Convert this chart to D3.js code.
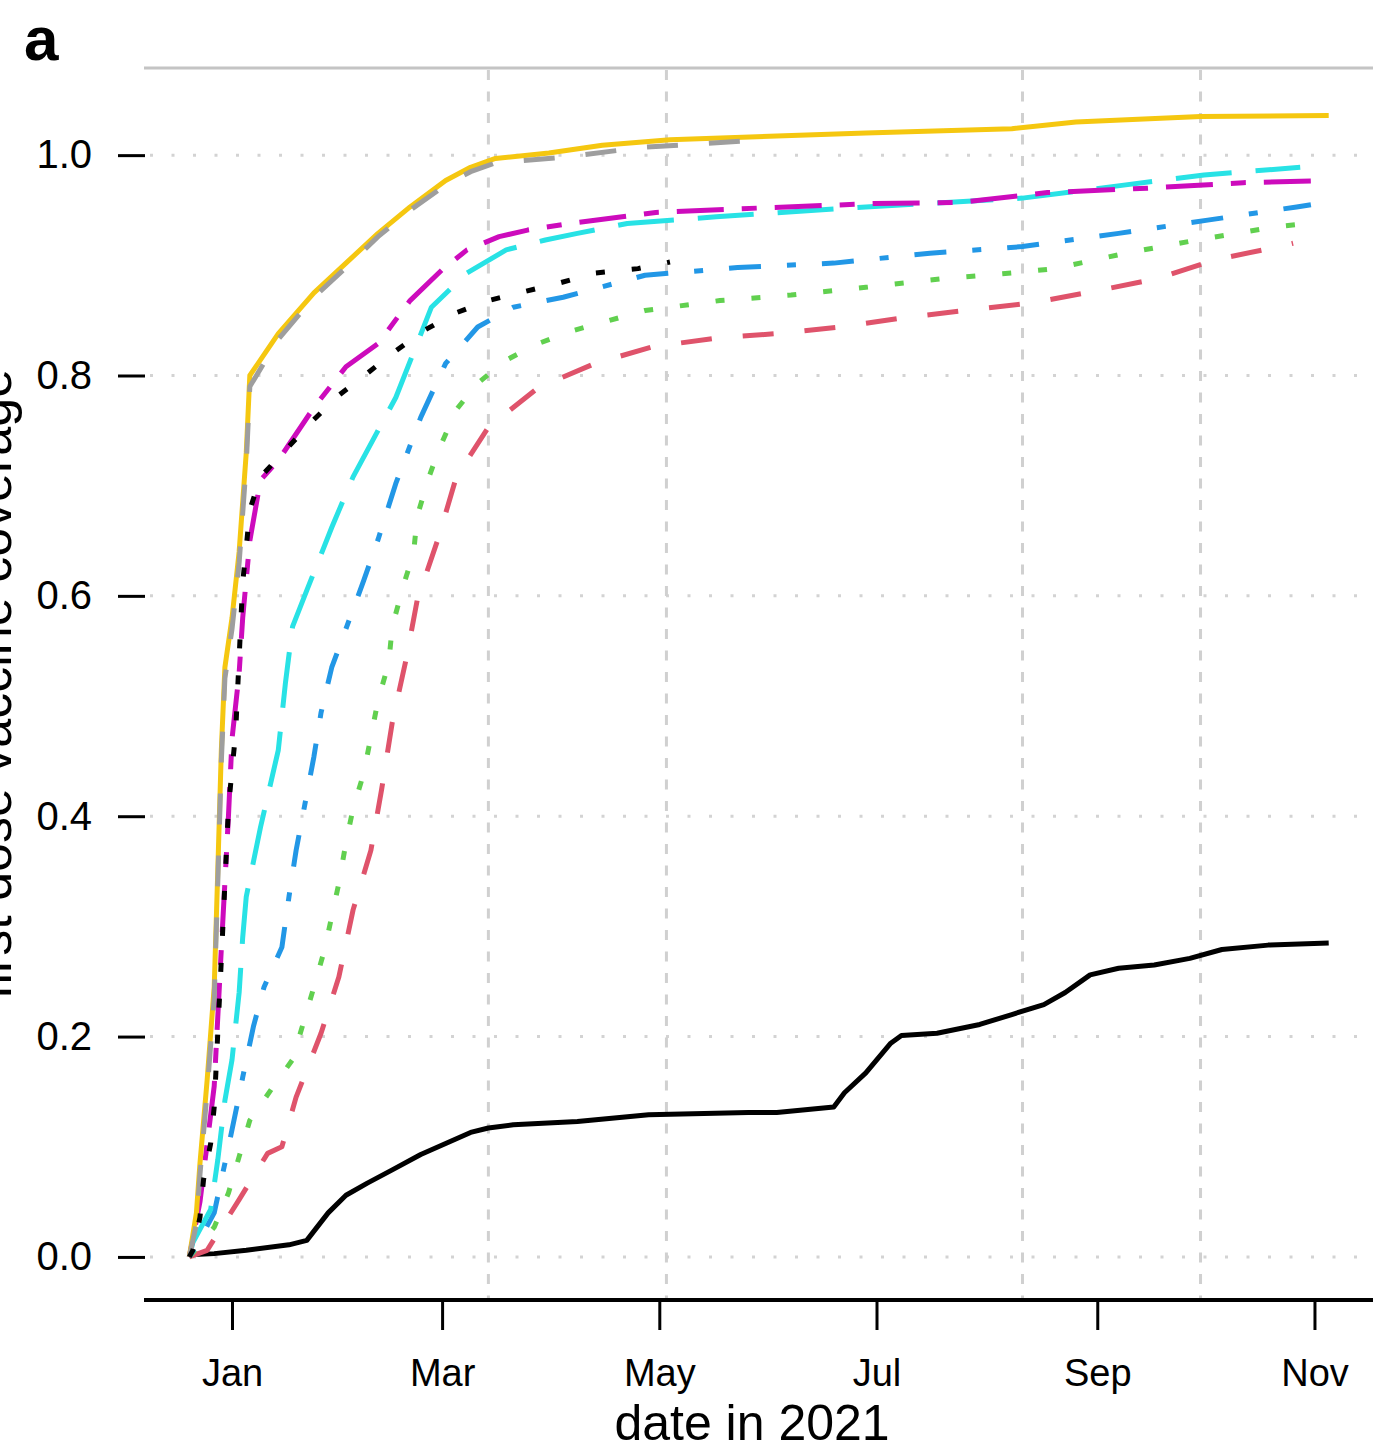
<!DOCTYPE html>
<html>
<head>
<meta charset="utf-8">
<script src="https://cdn.jsdelivr.net/npm/d3@7"></script>
<style>
  html, body { margin: 0; padding: 0; background: #fff; }
  svg { display: block; font-family: "Liberation Sans", Arial, Helvetica, sans-serif; }
</style>
</head>
<body>
<svg id="chart" width="1373" height="1452"></svg>
<script>
// ---------------- data ----------------
const xTickDates = ["2021-01-01","2021-03-01","2021-05-01","2021-07-01","2021-09-01","2021-11-01"];
const xTickLabels = ["Jan","Mar","May","Jul","Sep","Nov"];
const xGridDates = ["2021-03-14","2021-05-03","2021-08-11","2021-09-30"];
const yTicks = [0.0, 0.2, 0.4, 0.6, 0.8, 1.0];
const yTickLabels = ["0.0","0.2","0.4","0.6","0.8","1.0"];

const seriesBlack = [["2020-12-20",0.002],["2020-12-27",0.003],["2021-01-05",0.006],["2021-01-17",0.011],["2021-01-22",0.015],["2021-01-28",0.040],["2021-02-02",0.056],["2021-02-08",0.067],["2021-02-15",0.079],["2021-02-23",0.093],["2021-03-02",0.103],["2021-03-09",0.113],["2021-03-14",0.117],["2021-03-21",0.120],["2021-04-08",0.123],["2021-04-28",0.129],["2021-05-26",0.131],["2021-06-03",0.131],["2021-06-19",0.136],["2021-06-22",0.149],["2021-06-28",0.167],["2021-07-05",0.194],["2021-07-08",0.201],["2021-07-18",0.203],["2021-07-30",0.211],["2021-08-08",0.220],["2021-08-17",0.229],["2021-08-23",0.240],["2021-08-30",0.256],["2021-09-07",0.262],["2021-09-17",0.265],["2021-09-27",0.271],["2021-10-06",0.279],["2021-10-19",0.283],["2021-11-05",0.285]];

const seriesRed = [["2020-12-20",0.0],["2020-12-25",0.006],["2021-01-03",0.052],["2021-01-11",0.094],["2021-01-15",0.100],["2021-01-19",0.145],["2021-01-26",0.203],["2021-01-31",0.254],["2021-02-04",0.315],["2021-02-09",0.369],["2021-02-12",0.424],["2021-02-15",0.485],["2021-02-19",0.544],["2021-02-22",0.596],["2021-02-28",0.653],["2021-03-05",0.708],["2021-03-14",0.753],["2021-03-28",0.789],["2021-04-13",0.811],["2021-04-29",0.826],["2021-05-17",0.834],["2021-06-03",0.838],["2021-06-21",0.844],["2021-07-10",0.853],["2021-07-26",0.859],["2021-08-14",0.866],["2021-09-01",0.877],["2021-09-18",0.888],["2021-10-04",0.905],["2021-10-22",0.917],["2021-10-26",0.920]];

const seriesGreen = [["2020-12-20",0.0],["2020-12-27",0.027],["2020-12-31",0.058],["2021-01-03",0.091],["2021-01-06",0.124],["2021-01-12",0.152],["2021-01-18",0.179],["2021-01-21",0.212],["2021-01-24",0.245],["2021-01-27",0.279],["2021-01-29",0.309],["2021-01-31",0.339],["2021-02-02",0.376],["2021-02-04",0.407],["2021-02-07",0.439],["2021-02-09",0.472],["2021-02-11",0.505],["2021-02-14",0.539],["2021-02-15",0.572],["2021-02-18",0.608],["2021-02-21",0.639],["2021-02-22",0.672],["2021-02-25",0.705],["2021-02-28",0.732],["2021-03-05",0.769],["2021-03-11",0.793],["2021-03-19",0.814],["2021-03-28",0.829],["2021-04-07",0.841],["2021-04-27",0.859],["2021-05-18",0.868],["2021-06-07",0.873],["2021-06-28",0.880],["2021-07-20",0.888],["2021-08-08",0.893],["2021-08-20",0.897],["2021-09-09",0.911],["2021-09-29",0.923],["2021-10-21",0.935],["2021-10-30",0.938]];

const seriesBlue = [["2020-12-20",0.0],["2020-12-22",0.010],["2020-12-27",0.040],["2020-12-31",0.100],["2021-01-02",0.131],["2021-01-04",0.163],["2021-01-07",0.209],["2021-01-10",0.245],["2021-01-15",0.281],["2021-01-17",0.327],["2021-01-19",0.369],["2021-01-24",0.454],["2021-01-26",0.494],["2021-01-29",0.535],["2021-02-07",0.614],["2021-02-11",0.651],["2021-02-16",0.702],["2021-02-23",0.762],["2021-03-02",0.811],["2021-03-11",0.844],["2021-03-21",0.862],["2021-04-04",0.871],["2021-04-27",0.891],["2021-05-23",0.898],["2021-06-19",0.902],["2021-07-16",0.911],["2021-08-11",0.917],["2021-09-07",0.929],["2021-10-02",0.941],["2021-10-27",0.953],["2021-10-31",0.955]];

const seriesCyan = [["2020-12-20",0.0],["2020-12-21",0.013],["2020-12-23",0.025],["2020-12-26",0.043],["2020-12-28",0.088],["2020-12-30",0.142],["2021-01-01",0.179],["2021-01-03",0.240],["2021-01-04",0.290],["2021-01-05",0.327],["2021-01-09",0.390],["2021-01-14",0.460],["2021-01-16",0.521],["2021-01-18",0.572],["2021-01-22",0.605],["2021-01-29",0.662],["2021-02-04",0.708],["2021-02-16",0.780],["2021-02-26",0.862],["2021-03-08",0.893],["2021-03-19",0.914],["2021-03-30",0.923],["2021-04-08",0.929],["2021-04-22",0.938],["2021-05-17",0.944],["2021-06-28",0.953],["2021-08-11",0.961],["2021-09-09",0.973],["2021-10-01",0.982],["2021-10-28",0.989]];

const seriesMagenta = [["2020-12-20",0.0],["2020-12-23",0.05],["2020-12-27",0.155],["2020-12-29",0.28],["2020-12-31",0.40],["2021-01-01",0.47],["2021-01-03",0.53],["2021-01-04",0.58],["2021-01-06",0.65],["2021-01-09",0.705],["2021-01-14",0.723],["2021-01-24",0.771],["2021-02-02",0.808],["2021-02-11",0.829],["2021-02-20",0.868],["2021-03-01",0.896],["2021-03-08",0.914],["2021-03-17",0.926],["2021-03-25",0.932],["2021-04-06",0.938],["2021-04-30",0.948],["2021-05-29",0.952],["2021-06-30",0.956],["2021-07-24",0.957],["2021-08-18",0.966],["2021-09-15",0.970],["2021-10-12",0.975],["2021-11-05",0.977]];

const seriesYellow = [["2020-12-20",0.0],["2020-12-22",0.04],["2020-12-23",0.085],["2020-12-25",0.16],["2020-12-27",0.245],["2020-12-28",0.35],["2020-12-29",0.46],["2020-12-30",0.535],["2021-01-01",0.58],["2021-01-03",0.64],["2021-01-05",0.73],["2021-01-06",0.80],["2021-01-14",0.838],["2021-01-24",0.875],["2021-02-02",0.902],["2021-02-11",0.929],["2021-02-20",0.953],["2021-03-02",0.977],["2021-03-09",0.989],["2021-03-16",0.997],["2021-03-31",1.002],["2021-04-15",1.009],["2021-05-04",1.014],["2021-06-28",1.020],["2021-08-08",1.024],["2021-08-26",1.030],["2021-09-30",1.035],["2021-11-05",1.036]];

const seriesGray = [["2020-12-20",0.0],["2020-12-22",0.03],["2020-12-23",0.075],["2020-12-25",0.15],["2020-12-27",0.235],["2020-12-28",0.34],["2020-12-29",0.45],["2020-12-30",0.525],["2021-01-01",0.57],["2021-01-03",0.63],["2021-01-05",0.72],["2021-01-06",0.79],["2021-01-14",0.833],["2021-01-24",0.871],["2021-02-02",0.898],["2021-02-11",0.926],["2021-02-20",0.950],["2021-03-02",0.973],["2021-03-09",0.985],["2021-03-16",0.993],["2021-04-04",0.998],["2021-04-26",1.007],["2021-05-31",1.014]];

const seriesBlackDotted = [["2020-12-20",0.0],["2020-12-21",0.006],["2020-12-23",0.036],["2020-12-24",0.070],["2020-12-26",0.103],["2020-12-27",0.136],["2020-12-28",0.203],["2020-12-29",0.270],["2020-12-30",0.339],["2020-12-31",0.408],["2021-01-01",0.442],["2021-01-02",0.475],["2021-01-03",0.544],["2021-01-04",0.612],["2021-01-05",0.644],["2021-01-06",0.678],["2021-01-09",0.708],["2021-01-24",0.760],["2021-01-31",0.782],["2021-02-08",0.802],["2021-02-15",0.820],["2021-02-24",0.841],["2021-03-05",0.857],["2021-03-14",0.868],["2021-03-24",0.876],["2021-04-03",0.884],["2021-04-13",0.893],["2021-04-25",0.897],["2021-05-04",0.903]];

const seriesList = [seriesBlack, seriesRed, seriesGreen, seriesBlue, seriesCyan, seriesMagenta, seriesYellow, seriesGray, seriesBlackDotted];
const seriesColors = ["#000000","#DF536B","#61D04F","#2297E6","#28E2E5","#CD0BBC","#F5C710","#9E9E9E","#000000"];
const seriesDashes = [null, "31,31", "9,27", "9,26,32,26", "56,24", "15,18,47,18", null, "31,31", "9,27"];

// ---------------- drawing ----------------
const parse = d3.utcParse("%Y-%m-%d");
const svg = d3.select("#chart");

const x = d3.scaleUtc()
  .domain([parse("2020-12-07"), parse("2021-11-18")])
  .range([143, 1375]);
const y = d3.scaleLinear()
  .domain([-0.04, 1.08])
  .range([1301, 67]);

// top box line (grey)
svg.append("line")
  .attr("x1", 144).attr("x2", 1376)
  .attr("y1", y(1.08) + 1).attr("y2", y(1.08) + 1)
  .attr("stroke", "#c4c4c4").attr("stroke-width", 3);

// horizontal grid (dotted)
svg.append("g").selectAll("line").data(yTicks).join("line")
  .attr("x1", 150).attr("x2", 1376)
  .attr("y1", d => y(d)).attr("y2", d => y(d))
  .attr("stroke", "#d3d3d3").attr("stroke-width", 3)
  .attr("stroke-dasharray", "3,18.5");

// vertical grid (dashed)
svg.append("g").selectAll("line").data(xGridDates).join("line")
  .attr("x1", d => x(parse(d))).attr("x2", d => x(parse(d)))
  .attr("y1", 70).attr("y2", 1300)
  .attr("stroke", "#d0d0d0").attr("stroke-width", 3)
  .attr("stroke-dasharray", "10,11.5");

// series
const line = d3.line()
  .x(d => x(parse(d[0])))
  .y(d => y(d[1]));

seriesList.forEach((s, i) => {
  svg.append("path")
    .datum(s)
    .attr("d", line)
    .attr("fill", "none")
    .attr("stroke", seriesColors[i])
    .attr("stroke-width", 5)
    .attr("stroke-linejoin", "round")
    .attr("stroke-linecap", "butt")
    .attr("stroke-dasharray", seriesDashes[i]);
});

// x axis
const xAxis = d3.axisBottom(x)
  .tickValues(xTickDates.map(parse))
  .tickFormat((d, i) => xTickLabels[i])
  .tickSizeInner(30).tickSizeOuter(0).tickPadding(29);
const gx = svg.append("g").attr("transform", "translate(0,1300)").call(xAxis);
gx.select(".domain").attr("stroke", "#000").attr("stroke-width", 4)
  .attr("d", "M144,0H1376");
gx.selectAll(".tick line").attr("stroke", "#000").attr("stroke-width", 3);
gx.selectAll(".tick text").attr("font-size", 38).attr("fill", "#000")
  .attr("font-family", "Liberation Sans, Arial, sans-serif");

// y axis (ticks only)
const yAxis = d3.axisLeft(y)
  .tickValues(yTicks)
  .tickFormat((d, i) => yTickLabels[i])
  .tickSizeInner(27).tickSizeOuter(0).tickPadding(26);
const gy = svg.append("g").attr("transform", "translate(145,0)").call(yAxis);
gy.select(".domain").remove();
gy.selectAll(".tick line").attr("stroke", "#000").attr("stroke-width", 3);
gy.selectAll(".tick text").attr("font-size", 40).attr("fill", "#000")
  .attr("font-family", "Liberation Sans, Arial, sans-serif");

// axis titles
svg.append("text")
  .attr("x", 752).attr("y", 1440)
  .attr("text-anchor", "middle")
  .attr("font-size", 50)
  .attr("fill", "#000")
  .text("date in 2021");

svg.append("text")
  .attr("transform", "translate(11,684) rotate(-90)")
  .attr("text-anchor", "middle")
  .attr("font-size", 52)
  .attr("fill", "#000")
  .text("first dose vaccine coverage");

// panel label
svg.append("text")
  .attr("x", 24).attr("y", 60)
  .attr("font-size", 62)
  .attr("font-weight", "bold")
  .attr("fill", "#000")
  .text("a");
</script>
</body>
</html>
